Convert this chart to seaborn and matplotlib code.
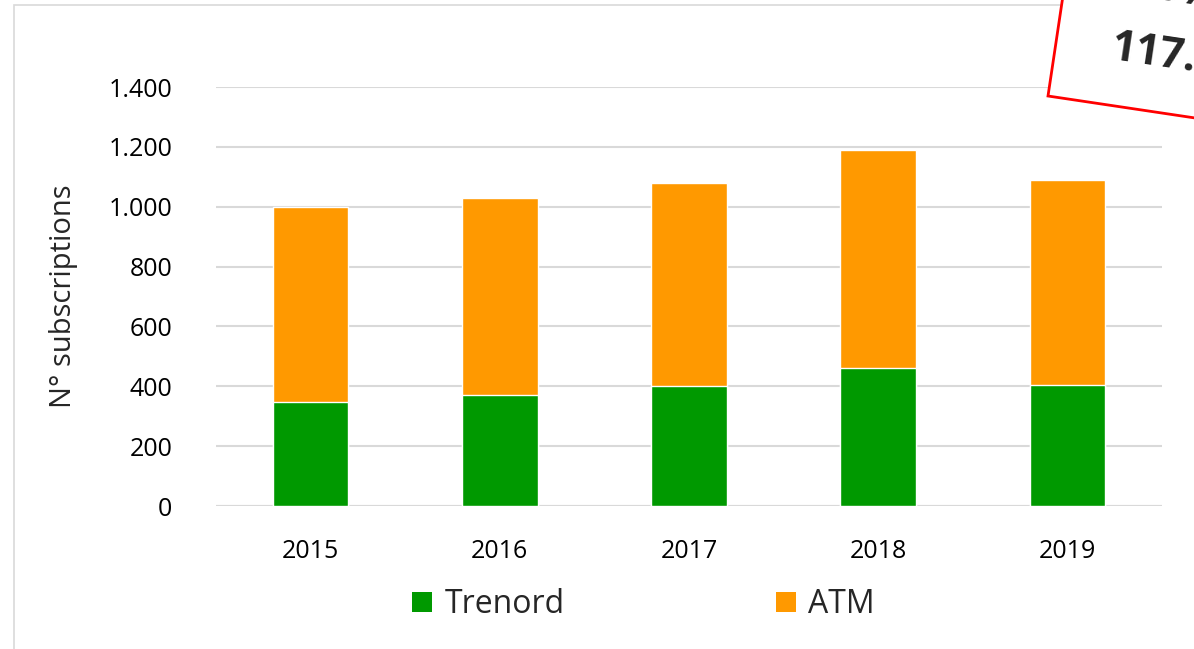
import pandas as pd
import seaborn as sns
import matplotlib.pyplot as plt
from matplotlib.patches import Rectangle, Patch
import matplotlib.transforms as mtransforms

years = ["2015", "2016", "2017", "2018", "2019"]
trenord = [349, 371, 401, 460, 404]
atm = [649, 657, 678, 729, 685]
yticks = [0, 200, 400, 600, 800, 1000, 1200, 1400]
ytick_labels = ["0", "200", "400", "600", "800", "1.000", "1.200", "1.400"]

green = "#009900"
orange = "#FF9900"

df = pd.DataFrame({"year": years, "Trenord": trenord, "ATM": atm})
df["total"] = df["Trenord"] + df["ATM"]

sns.set_style("white")
plt.rcParams["font.family"] = ["Open Sans", "DejaVu Sans"]

fig = plt.figure(figsize=(11.94, 6.49), dpi=100)
ax = fig.add_axes([0.1809, 0.2203, 0.7923, 0.6456])

# stacked bars: total (orange) behind, Trenord (green) in front
sns.barplot(data=df, x="year", y="total", color=orange, saturation=1, width=0.4, ax=ax, zorder=3)
sns.barplot(data=df, x="year", y="Trenord", color=green, saturation=1, width=0.4, ax=ax, zorder=3)

ax.set_ylim(0, 1400)
ax.set_xlim(-0.5, 4.5)
ax.set_yticks(yticks)
ax.set_yticklabels(ytick_labels)
ax.yaxis.grid(True, color="#d9d9d9", linewidth=1.5, zorder=0)
ax.set_axisbelow(True)
ax.tick_params(left=False, bottom=False, labelsize=18, colors="black")
ax.tick_params(axis="y", pad=28)
ax.tick_params(axis="x", pad=20)
for s in ax.spines.values():
    s.set_visible(False)
ax.axhline(0, color="#d9d9d9", linewidth=1.5, zorder=1)

ax.set_xlabel("")
ax.set_ylabel("N° subscriptions", fontsize=21, labelpad=22)

handles = [Patch(facecolor=green, edgecolor="none"), Patch(facecolor=orange, edgecolor="none")]
fig.legend(handles=handles, labels=["Trenord", "ATM"], loc="center", bbox_to_anchor=(0.539, 0.068),
           ncol=2, frameon=False, fontsize=23, handlelength=0.62, handleheight=0.62,
           handletextpad=0.4, columnspacing=6.6)

# outer chart border
fig.patches.append(Rectangle((14 / 1194, -0.1), 1.2, (644 / 649) + 0.1, transform=fig.transFigure,
                             fill=False, edgecolor="#d9d9d9", linewidth=1.2, zorder=0))

# rotated red callout box at top right (partly outside the figure)
tr = mtransforms.Affine2D().rotate_deg_around(1048, 649 - 96, -8.5) + mtransforms.IdentityTransform()
box = Rectangle((1048, 649 - 96), 300, 160, transform=tr, facecolor="white",
                edgecolor="red", linewidth=2, zorder=10)
fig.patches.append(box)
fig.text(1108 / 1194, 1 - 82 / 649, "117.000", fontsize=31, fontweight="bold",
         rotation=-8.5, ha="left", va="baseline", zorder=11)
fig.text(1128 / 1194, 1 - 8 / 649, "+6%", fontsize=31, fontweight="bold",
         rotation=-8.5, ha="left", va="baseline", zorder=11)

fig.savefig("out.png", dpi=100)
